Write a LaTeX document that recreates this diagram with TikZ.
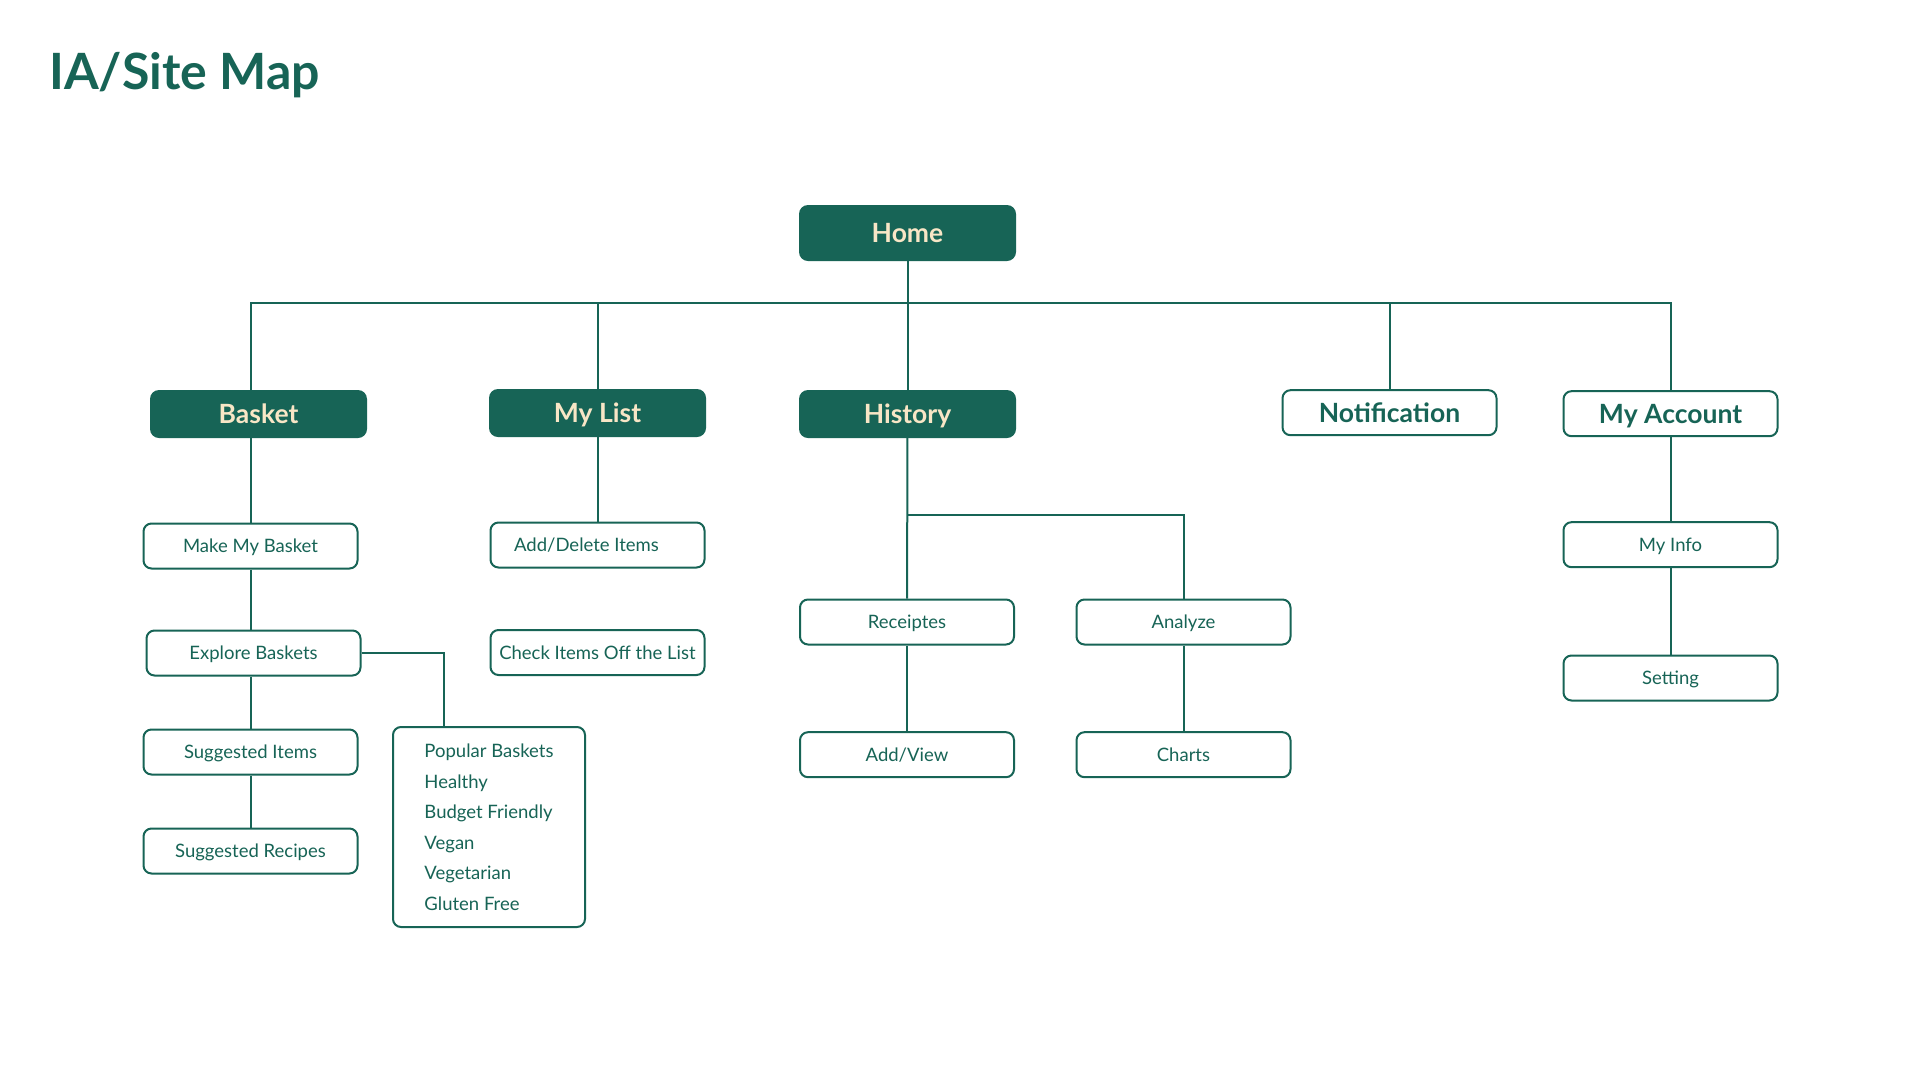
\documentclass[tikz,border=0pt]{standalone}
\usepackage{fontspec}
\setmainfont{Lato}

\definecolor{sitegreen}{HTML}{176456}
\definecolor{sitecream}{HTML}{F8E6C6}

\begin{document}
\begin{tikzpicture}[x=1pt, y=-1pt,
  mainbox/.style={fill=sitegreen, rounded corners=9pt, text=sitecream,
    font=\bfseries\fontsize{26.5}{30}\selectfont, text height=19pt, text depth=0pt,
    minimum width=217pt, minimum height=48pt, inner sep=0pt},
  topbox/.style={draw=sitegreen, line width=2pt, fill=white, rounded corners=8pt,
    text=sitegreen, font=\bfseries\fontsize{26.5}{30}\selectfont,
    text height=19pt, text depth=0pt,
    minimum width=214pt, minimum height=45pt, inner sep=0pt},
  subbox/.style={draw=sitegreen, line width=2pt, fill=white, rounded corners=8pt,
    text=sitegreen, font=\fontsize{18.5}{22}\selectfont,
    text height=13.3pt, text depth=0pt,
    minimum width=214pt, minimum height=45pt, inner sep=0pt},
  listbox/.style={draw=sitegreen, line width=2pt, fill=white, rounded corners=8pt,
    text=sitegreen, font=\fontsize{18.5}{30.5}\selectfont, align=left,
    minimum width=192pt, minimum height=200pt, inner sep=0pt},
  link/.style={draw=sitegreen, line width=2pt}]

\fill[white] (0,0) rectangle (1920,1080);
\useasboundingbox (0,0) rectangle (1920,1080);

% title
\node[anchor=base west, inner sep=0pt, text=sitegreen,
  font=\bfseries\fontsize{50}{60}\selectfont] (title) at (49,89) {IA/Site Map};

% first level
\node[mainbox, minimum height=56pt] (home) at (907.5,233) {Home};

\node[mainbox] (basket) at (258.5,414) {Basket};
\node[mainbox] (mylist) at (597.5,413) {My List};
\node[mainbox] (history) at (907.5,414) {History};
\node[topbox] (notification) at (1389.5,412.7) {Notification};
\node[topbox] (myaccount) at (1670.5,413.7) {My Account};

% basket
\node[subbox] (makebasket) at (250.5,546) {Make My Basket};
\node[subbox] (explore) at (253.5,653) {Explore Baskets};
\node[subbox] (sitems) at (250.5,752) {Suggested Items};
\node[subbox] (srecipes) at (250.5,851) {Suggested Recipes};
\node[listbox] (basketlist) at (489,827)
  {Popular Baskets\\Healthy\\Budget Friendly\\Vegan\\Vegetarian\\Gluten Free};

% my list
\node[subbox] (adddelete) at (597.5,545) {Add/Delete Items\hspace*{22pt}};
\node[subbox] (checkitems) at (597.5,652.5) {Check Items Off the List};

% history
\node[subbox] (receipts) at (907,622) {Receiptes};
\node[subbox] (analyze) at (1183.5,622) {Analyze};
\node[subbox] (addview) at (907,754.7) {Add/View};
\node[subbox] (charts) at (1183.5,754.7) {Charts};

% my account
\node[subbox] (myinfo) at (1670.5,544.7) {My Info};
\node[subbox] (setting) at (1670.5,678) {Setting};

\coordinate (bus) at (907.5,303);
\coordinate (hsplit) at (907,515);

% connectors
\draw[link] (basket.north -| makebasket) |- (bus) -| (myaccount.north);
\draw[link] (home) -- (history);
\draw[link] (mylist.north) -- (mylist.north |- bus);
\draw[link] (notification.north) -- (notification.north |- bus);

\draw[link] (basket.south -| makebasket) -- (makebasket);
\draw[link] (makebasket) -- (makebasket |- explore.north);
\draw[link] (explore.south -| sitems) -- (sitems);
\draw[link] (sitems) -- (srecipes);
\draw[link] (explore.east) -| ([xshift=-45pt]basketlist.north);

\draw[link] (mylist) -- (adddelete);

\draw[link] (history) -- (receipts);
\draw[link] (hsplit) -| (analyze.north);
\draw[link] (receipts) -- (addview);
\draw[link] (analyze) -- (charts);

\draw[link] (myaccount) -- (myinfo);
\draw[link] (myinfo) -- (setting);
\end{tikzpicture}
\end{document}
